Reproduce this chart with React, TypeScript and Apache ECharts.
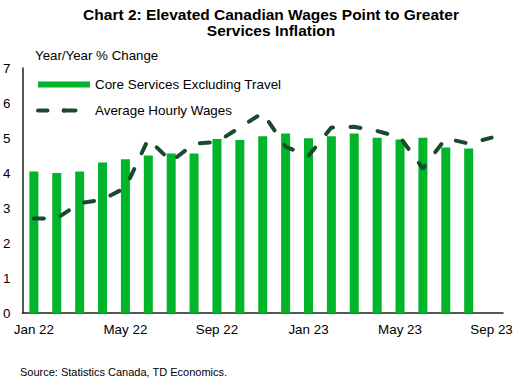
import React, { useEffect, useRef } from "react";
import * as echarts from "echarts";

const categories = [
  "Jan 22", "Feb 22", "Mar 22", "Apr 22", "May 22", "Jun 22", "Jul 22", "Aug 22",
  "Sep 22", "Oct 22", "Nov 22", "Dec 22", "Jan 23", "Feb 23", "Mar 23", "Apr 23",
  "May 23", "Jun 23", "Jul 23", "Aug 23", "Sep 23",
];

const coreServices = [
  4.04, 4.0, 4.04, 4.3, 4.39, 4.5, 4.56, 4.56, 4.97, 4.94, 5.05, 5.13, 4.99, 5.05,
  5.13, 5.01, 4.96, 5.01, 4.73, 4.7, null,
];

const hourlyWages = [
  2.7, 2.7, 3.14, 3.24, 3.58, 4.97, 4.33, 4.84, 4.89, 5.3, 5.72, 4.75, 4.49, 5.3,
  5.32, 5.2, 5.02, 4.13, 4.99, 4.84, 5.01,
];

const FONT = "'Liberation Sans', Arial, sans-serif";

export default function App() {
  const ref = useRef<HTMLDivElement>(null);
  useEffect(() => {
    document.body.style.margin = "0";
    if (!ref.current) return;
    const chart = echarts.init(ref.current, null, { renderer: "svg" });
    chart.setOption({
      animation: false,
      backgroundColor: "#ffffff",
      textStyle: { fontFamily: FONT },
      title: {
        text: "Chart 2: Elevated Canadian Wages Point to Greater\nServices Inflation",
        left: 266,
        textAlign: "center",
        top: 1,
        textStyle: {
          fontFamily: FONT,
          fontSize: 15.5,
          fontWeight: "bold",
          color: "#000",
          lineHeight: 16.5,
        },
      },
      legend: {
        orient: "vertical",
        left: 31,
        top: 73,
        itemGap: 13,
        itemWidth: 52,
        itemHeight: 6,
        textStyle: { fontFamily: FONT, fontSize: 13.4, color: "#000" },
        data: [
          { name: "Core Services Excluding Travel", icon: "rect" },
          {
            name: "Average Hourly Wages",
            lineStyle: { width: 4, type: [9.5, 18.5], cap: "round" },
          },
        ],
      },
      grid: { left: 21, right: 13, top: 68, bottom: 72, containLabel: false },
      xAxis: {
        type: "category",
        data: categories,
        boundaryGap: true,
        axisLine: { show: true, lineStyle: { color: "#1d2614", width: 1.5 } },
        axisTick: { show: false },
        axisLabel: {
          interval: 3,
          fontFamily: FONT,
          fontSize: 13.4,
          color: "#000",
          margin: 10,
        },
      },
      yAxis: {
        type: "value",
        min: 0,
        max: 7,
        interval: 1,
        axisLine: { show: true, lineStyle: { color: "#1d2614", width: 1.5 } },
        axisTick: { show: false },
        splitLine: { show: false },
        axisLabel: { fontFamily: FONT, fontSize: 13.4, color: "#000", margin: 12 },
      },
      graphic: [
        {
          type: "text",
          left: 35,
          top: 49,
          style: { text: "Year/Year % Change", font: `13.3px ${FONT}`, fill: "#000" },
        },
        {
          type: "text",
          left: 20,
          top: 366,
          style: {
            text: "Source: Statistics Canada, TD Economics.",
            font: `11px ${FONT}`,
            fill: "#000",
          },
        },
      ],
      series: [
        {
          name: "Core Services Excluding Travel",
          type: "bar",
          data: coreServices,
          barWidth: 9,
          itemStyle: { color: "#00b52a" },
        },
        {
          name: "Average Hourly Wages",
          type: "line",
          data: hourlyWages,
          symbol: "none",
          itemStyle: { color: "#1a4a2c" },
          lineStyle: {
            color: "#1a4a2c",
            width: 4,
            type: [10, 17.5],
            cap: "round",
          },
        },
      ],
    });
    return () => chart.dispose();
  }, []);
  return <div ref={ref} style={{ width: 516, height: 385 }} />;
}
